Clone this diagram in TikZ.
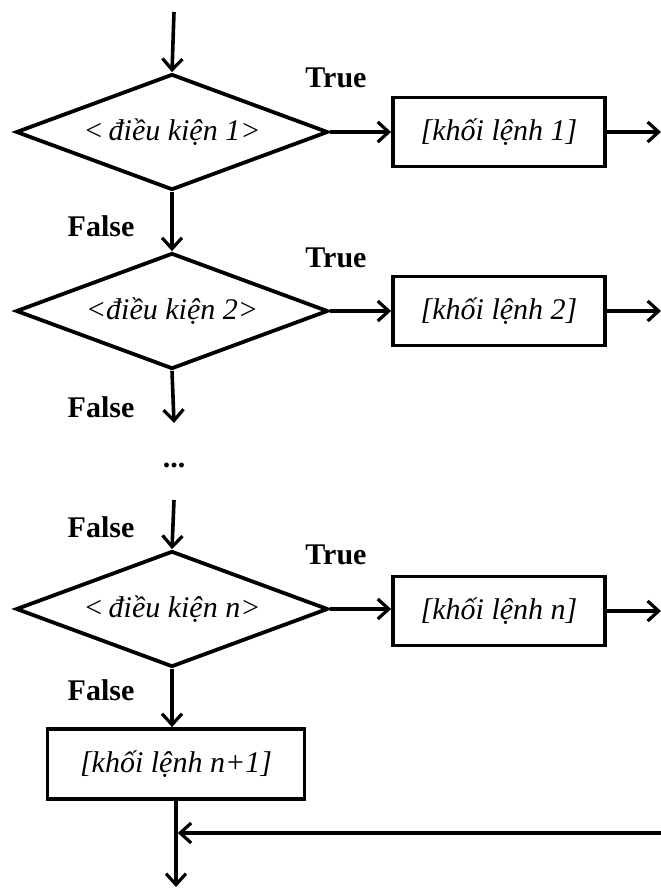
\documentclass[tikz,border=0pt]{standalone}
\usepackage{fontspec}
\setmainfont{Liberation Serif}
\usetikzlibrary{shapes.geometric,arrows.meta}

\tikzset{
	cond/.style={diamond,draw,line width=1.9pt,minimum width=156pt,minimum height=58pt,inner sep=0pt,shape aspect=2.7,font=\fontsize{15}{18}\selectfont\itshape},
	block/.style={rectangle,draw,line width=1.9pt,minimum width=106pt,minimum height=34.5pt,font=\fontsize{15}{18}\selectfont\itshape},
	lbl/.style={font=\fontsize{15}{18}\selectfont\bfseries},
	flow/.style={line width=1.8pt,-{Straight Barb[length=5.5pt,width=10pt,line width=1.6pt]}}
}

\begin{document}
\begin{tikzpicture}[x=0.5pt,y=-0.5pt]
	\useasboundingbox (0,0) rectangle (660,889);
	
	%conditions
	\node[cond] (d1) at (172,132) {<\,điều kiện 1>};
	\node[cond] (d2) at (172,311) {<điều kiện 2>};
	\node[cond] (dn) at (172,609) {<\,điều kiện n>};
	
	%blocks
	\node[block] (b1) at (499,132) {[khối lệnh 1]};
	\node[block] (b2) at (499,311) {[khối lệnh 2]};
	\node[block] (bn) at (499,611) {[khối lệnh n]};
	\node[block,minimum width=128.5pt,minimum height=35pt] (be) at (176,764) {[khối lệnh n+1]};
	
	%free ends
	\coordinate (start) at (174,12);
	\coordinate (o1) at (661,132);
	\coordinate (o2) at (661,311);
	\coordinate (on) at (661,611);
	\coordinate (f2) at (174,423);
	\coordinate (fn) at (174,500);
	\coordinate (back) at (661,833);
	\coordinate (join) at (176,833);
	\coordinate (stop) at (176,887);
	
	%labels
	\node[lbl] (t1) at (336,78) {True};
	\node[lbl] (t2) at (336,258) {True};
	\node[lbl] (tn) at (336,555) {True};
	\node[lbl] (n1) at (101,226) {False};
	\node[lbl] (n2) at (101,407) {False};
	\node[lbl] (n3) at (101,527) {False};
	\node[lbl] (n4) at (101,690) {False};
	\node[lbl] (dots) at (174,465) {...};
	
	%arrows
	\draw[flow] (start) -- (d1.north);
	\draw[flow] (d1.south) -- (d2.north);
	\draw[flow] (d2.south) -- (f2);
	\draw[flow] (fn) -- (dn.north);
	\draw[flow] (dn.south) -- (dn.south |- be.north);
	\draw[flow] (d1.east) -- (b1.west);
	\draw[flow] (d2.east) -- (b2.west);
	\draw[flow] (dn.east) -- (dn.east -| bn.west);
	\draw[flow] (b1.east) -- (o1);
	\draw[flow] (b2.east) -- (o2);
	\draw[flow] (bn.east) -- (on);
	\draw[line width=1.8pt] (be.south) -- (join);
	\draw[flow] (join) -- (stop);
	\draw[flow,shorten >=0.9pt] (back) -- (join);
\end{tikzpicture}
\end{document}
